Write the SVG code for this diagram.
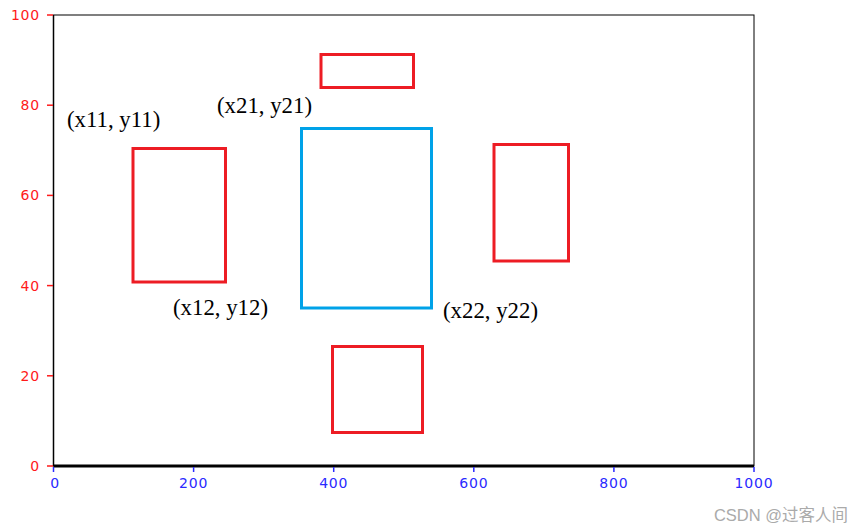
<svg xmlns="http://www.w3.org/2000/svg" width="862" height="532" viewBox="0 0 862 532">
<style>
.ylab{font-family:"DejaVu Sans",sans-serif;font-size:14px;letter-spacing:0.8px;fill:#ff1a1a;text-anchor:end}
.xlab{font-family:"DejaVu Sans",sans-serif;font-size:14px;letter-spacing:0.8px;fill:#2a2aff;text-anchor:middle}
.coord{font-family:"Liberation Serif","Times New Roman",serif;font-size:22.8px;fill:#000}
.rr{fill:none;stroke:#ed1c24;stroke-width:3}
.br{fill:none;stroke:#00a2e8;stroke-width:3}
.yt{stroke:#ff1a1a;stroke-width:1.5}
.xt{stroke:#2a2aff;stroke-width:1.5}
</style>
<rect width="862" height="532" fill="#fff"/>
<g id="axes">
<rect x="53.5" y="15" width="700.5" height="451" fill="none" stroke="#000" stroke-width="1"/>
<line x1="53.5" y1="15" x2="53.5" y2="466" stroke="#000" stroke-width="1.5"/>
<line x1="53.5" y1="466" x2="754" y2="466" stroke="#000" stroke-width="3"/>
<line class="yt" x1="47" y1="15" x2="53" y2="15"/>
<line class="yt" x1="47" y1="105.2" x2="53" y2="105.2"/>
<line class="yt" x1="47" y1="195.4" x2="53" y2="195.4"/>
<line class="yt" x1="47" y1="285.6" x2="53" y2="285.6"/>
<line class="yt" x1="47" y1="375.8" x2="53" y2="375.8"/>
<line class="yt" x1="47" y1="466" x2="53" y2="466"/>
<text class="ylab" x="40" y="20">100</text>
<text class="ylab" x="40" y="110.2">80</text>
<text class="ylab" x="40" y="200.4">60</text>
<text class="ylab" x="40" y="290.6">40</text>
<text class="ylab" x="40" y="380.8">20</text>
<text class="ylab" x="40" y="471">0</text>
<line class="xt" x1="53.5" y1="467" x2="53.5" y2="472"/>
<line class="xt" x1="193.6" y1="467" x2="193.6" y2="472"/>
<line class="xt" x1="333.7" y1="467" x2="333.7" y2="472"/>
<line class="xt" x1="473.8" y1="467" x2="473.8" y2="472"/>
<line class="xt" x1="613.9" y1="467" x2="613.9" y2="472"/>
<line class="xt" x1="754" y1="467" x2="754" y2="472"/>
<text class="xlab" x="55" y="487.5">0</text>
<text class="xlab" x="193.6" y="487.5">200</text>
<text class="xlab" x="333.7" y="487.5">400</text>
<text class="xlab" x="473.8" y="487.5">600</text>
<text class="xlab" x="613.9" y="487.5">800</text>
<text class="xlab" x="754" y="487.5">1000</text>
</g>
<g id="box1"><rect class="rr" x="133" y="148.5" width="92.5" height="133.5"/></g>
<g id="box-top"><rect class="rr" x="321" y="54.5" width="92.5" height="33"/></g>
<g id="box-blue"><rect class="br" x="301.5" y="128.5" width="130" height="179.5"/></g>
<g id="box-right"><rect class="rr" x="494" y="144.5" width="74.5" height="116.5"/></g>
<g id="box-bottom"><rect class="rr" x="332.5" y="346.5" width="90" height="86"/></g>
<g id="labels">
<text class="coord" x="67" y="127">(x11, y11)</text>
<text class="coord" x="217" y="113">(x21, y21)</text>
<text class="coord" x="173" y="315">(x12, y12)</text>
<text class="coord" x="443" y="318">(x22, y22)</text>
</g>
<g id="connectors"></g>
<text x="848" y="521" font-family="'Liberation Sans','Noto Sans CJK SC',sans-serif" font-size="16.5" fill="#aaaaaa" text-anchor="end">CSDN @过客人间</text>
</svg>
